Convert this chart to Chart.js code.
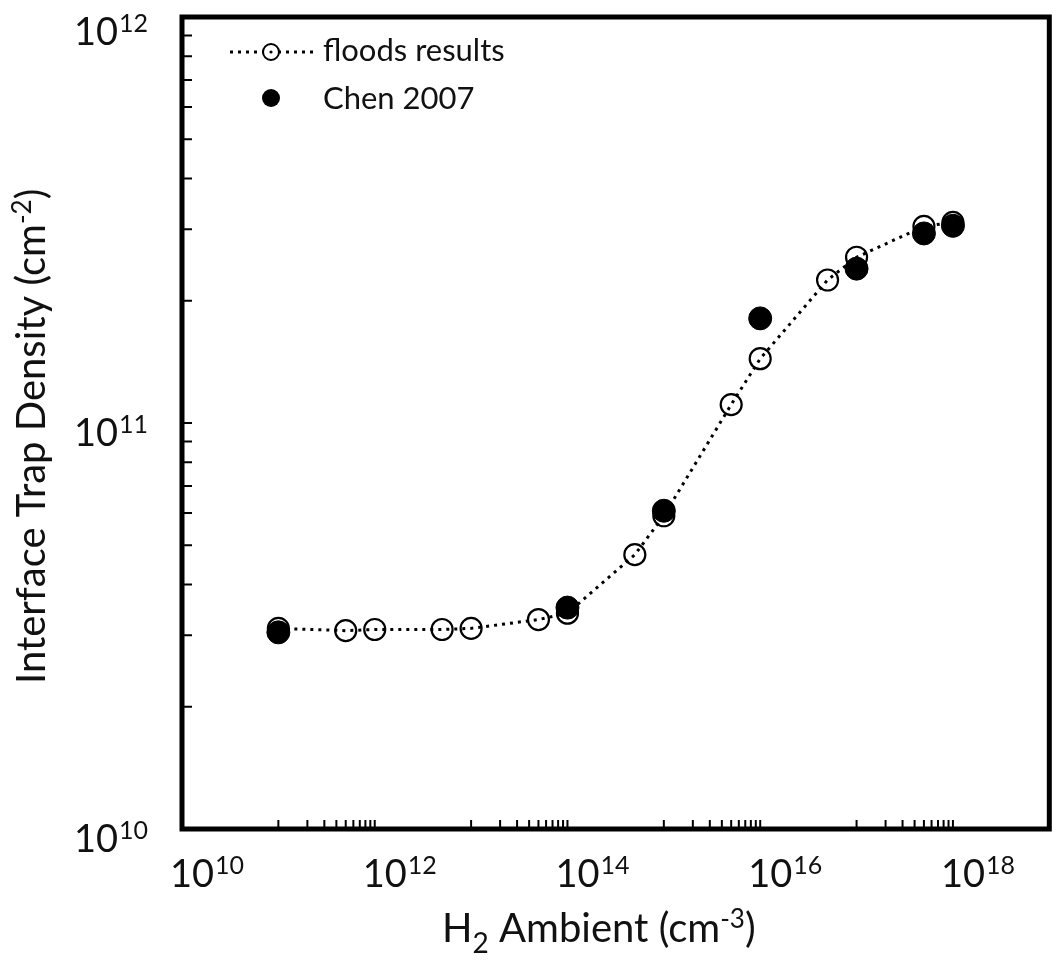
<!DOCTYPE html>
<html>
<head>
<meta charset="utf-8">
<script src="https://cdn.jsdelivr.net/npm/chart.js@4.4.0/dist/chart.umd.min.js"></script>
<style>
  body { margin: 0; background: #fff; }
  #wrap { width: 1062px; height: 966px; }
</style>
</head>
<body>
<div id="wrap"><canvas id="trapChart" width="1062" height="966"></canvas></div>
<script>
// floods simulation: H2 ambient (cm^-3) vs interface trap density (cm^-2)
let floodsH2 = [1e11, 5e11, 1e12, 5e12, 1e13, 5e13, 1e14, 5e14, 1e15, 5e15, 1e16, 5e16, 1e17, 5e17, 1e18];
let floodsDit = [3.12e10, 3.08e10, 3.1e10, 3.1e10, 3.12e10, 3.28e10, 3.4e10, 4.74e10, 5.91e10, 1.11e11, 1.44e11, 2.25e11, 2.56e11, 3.05e11, 3.12e11];

// Chen 2007 measurements
let chenH2 = [1e11, 1e14, 1e15, 1e16, 1e17, 5e17, 1e18];
let chenDit = [3.05e10, 3.51e10, 6.08e10, 1.81e11, 2.40e11, 2.93e11, 3.06e11];

let legendNames = ['floods results', 'Chen 2007'];

// tick labels are powers of ten
let xLabelPowers = [10, 12, 14, 16, 18];
let yLabelPowers = [10, 11, 12];
let xMinorDecades = [11, 13, 15, 17];
let yMinorDecades = [10, 11];

const FONT = 'Lato, "Open Sans", sans-serif';
const INK = '#111';

function toPoints(xs, ys) {
    let pts = [];
    for (let i = 0; i < xs.length; i++) pts.push({ x: xs[i], y: ys[i] });
    return pts;
}

// draws "10" with a raised exponent; y is the baseline of "10"
function drawPower(ctx, exp, x, y, align) {
    ctx.font = '38px ' + FONT;
    let w1 = ctx.measureText('10').width;
    ctx.font = '25px ' + FONT;
    let w2 = ctx.measureText(String(exp)).width;
    let left = align === 'right' ? x - w1 - w2 - 1 : x - (w1 + w2 + 1) / 2;
    ctx.textAlign = 'left';
    ctx.textBaseline = 'alphabetic';
    ctx.font = '38px ' + FONT;
    ctx.fillText('10', left, y);
    ctx.font = '25px ' + FONT;
    ctx.fillText(String(exp), left + w1 + 1, y - 13);
}

// text made of pieces: [text, size, shift]
function drawRich(ctx, parts, x, y) {
    let cx = x;
    ctx.textAlign = 'left';
    ctx.textBaseline = 'alphabetic';
    for (let p of parts) {
        ctx.font = p[1] + 'px ' + FONT;
        ctx.fillText(p[0], cx, y + p[2]);
        cx += ctx.measureText(p[0]).width;
    }
}

const decorPlugin = {
    id: 'decor',
    afterDraw(chart) {
        let ctx = chart.ctx;
        let a = chart.chartArea;
        let xs = chart.scales.x;
        let ys = chart.scales.y;
        ctx.save();
        ctx.fillStyle = INK;
        ctx.strokeStyle = '#000';

        // minor ticks, pointing inward
        ctx.lineWidth = 2;
        ctx.beginPath();
        for (let d of xMinorDecades) {
            for (let k = 1; k <= 10; k++) {
                let px = xs.getPixelForValue(k * Math.pow(10, d));
                ctx.moveTo(px, a.bottom);
                ctx.lineTo(px, a.bottom - 9);
            }
        }
        for (let d of yMinorDecades) {
            for (let k = 1; k <= 10; k++) {
                let py = ys.getPixelForValue(k * Math.pow(10, d));
                ctx.moveTo(a.left, py);
                ctx.lineTo(a.left + 10, py);
            }
        }
        ctx.stroke();

        // frame
        ctx.lineWidth = 5;
        ctx.strokeRect(a.left, a.top, a.right - a.left, a.bottom - a.top);

        // tick labels
        for (let p of xLabelPowers) {
            let px = xs.getPixelForValue(Math.pow(10, p));
            drawPower(ctx, p, px + 25, a.bottom + 58, 'center');
        }
        for (let p of yLabelPowers) {
            let py = ys.getPixelForValue(Math.pow(10, p));
            drawPower(ctx, p, a.left - 34, Math.max(py + 23, 45), 'right');
        }

        // axis titles
        drawRich(ctx, [['H', 40, 0], ['2', 28, 11], [' Ambient (cm', 40, 0], ['-3', 26, -14], [')', 40, 0]], 442, 942);
        ctx.save();
        ctx.translate(45, 684);
        ctx.rotate(-Math.PI / 2);
        drawRich(ctx, [['Interface Trap Density (cm', 40, 0], ['-2', 26, -14], [')', 40, 0]], 0, 0);
        ctx.restore();

        // legend
        let lx = a.left + 48;
        ctx.lineWidth = 3;
        ctx.setLineDash([3, 5]);
        ctx.beginPath();
        ctx.moveTo(lx, 52);
        ctx.lineTo(lx + 84, 52);
        ctx.stroke();
        ctx.setLineDash([]);
        ctx.fillStyle = '#fff';
        ctx.beginPath();
        ctx.arc(lx + 41, 52, 8, 0, Math.PI * 2);
        ctx.fill();
        ctx.lineWidth = 2;
        ctx.stroke();
        ctx.fillStyle = '#000';
        ctx.beginPath();
        ctx.arc(lx + 41, 52, 1.6, 0, Math.PI * 2);
        ctx.fill();
        ctx.beginPath();
        ctx.arc(lx + 41, 98, 9, 0, Math.PI * 2);
        ctx.fill();
        ctx.fillStyle = INK;
        ctx.font = '31px ' + FONT;
        ctx.textBaseline = 'middle';
        ctx.textAlign = 'left';
        ctx.fillText(legendNames[0], lx + 93, 51);
        ctx.fillText(legendNames[1], lx + 93, 99);
        ctx.restore();
    }
};

new Chart(document.getElementById('trapChart').getContext('2d'), {
    type: 'scatter',
    data: {
        datasets: [{
            label: legendNames[1],
            data: toPoints(chenH2, chenDit),
            backgroundColor: '#000',
            borderColor: '#000',
            borderWidth: 1,
            pointRadius: 11.5,
            order: 0
        }, {
            label: legendNames[0],
            data: toPoints(floodsH2, floodsDit),
            showLine: true,
            borderColor: '#000',
            borderWidth: 3,
            borderDash: [3, 5],
            backgroundColor: 'rgba(0,0,0,0)',
            pointBorderColor: '#000',
            pointBorderWidth: 2.2,
            pointRadius: 10.5,
            tension: 0,
            order: 1
        }]
    },
    options: {
        responsive: false,
        animation: false,
        layout: { padding: { top: 17, right: 6, left: 0, bottom: 0 } },
        plugins: {
            legend: { display: false },
            tooltip: { enabled: false }
        },
        scales: {
            x: {
                type: 'logarithmic',
                min: 1e10,
                max: 1e19,
                grid: { display: false },
                border: { display: false },
                ticks: { display: false },
                afterFit(scale) { scale.height = 137; }
            },
            y: {
                type: 'logarithmic',
                min: 1e10,
                max: 1e12,
                grid: { display: false },
                border: { display: false },
                ticks: { display: false },
                afterFit(scale) { scale.width = 182; }
            }
        }
    },
    plugins: [decorPlugin]
});
</script>
</body>
</html>
